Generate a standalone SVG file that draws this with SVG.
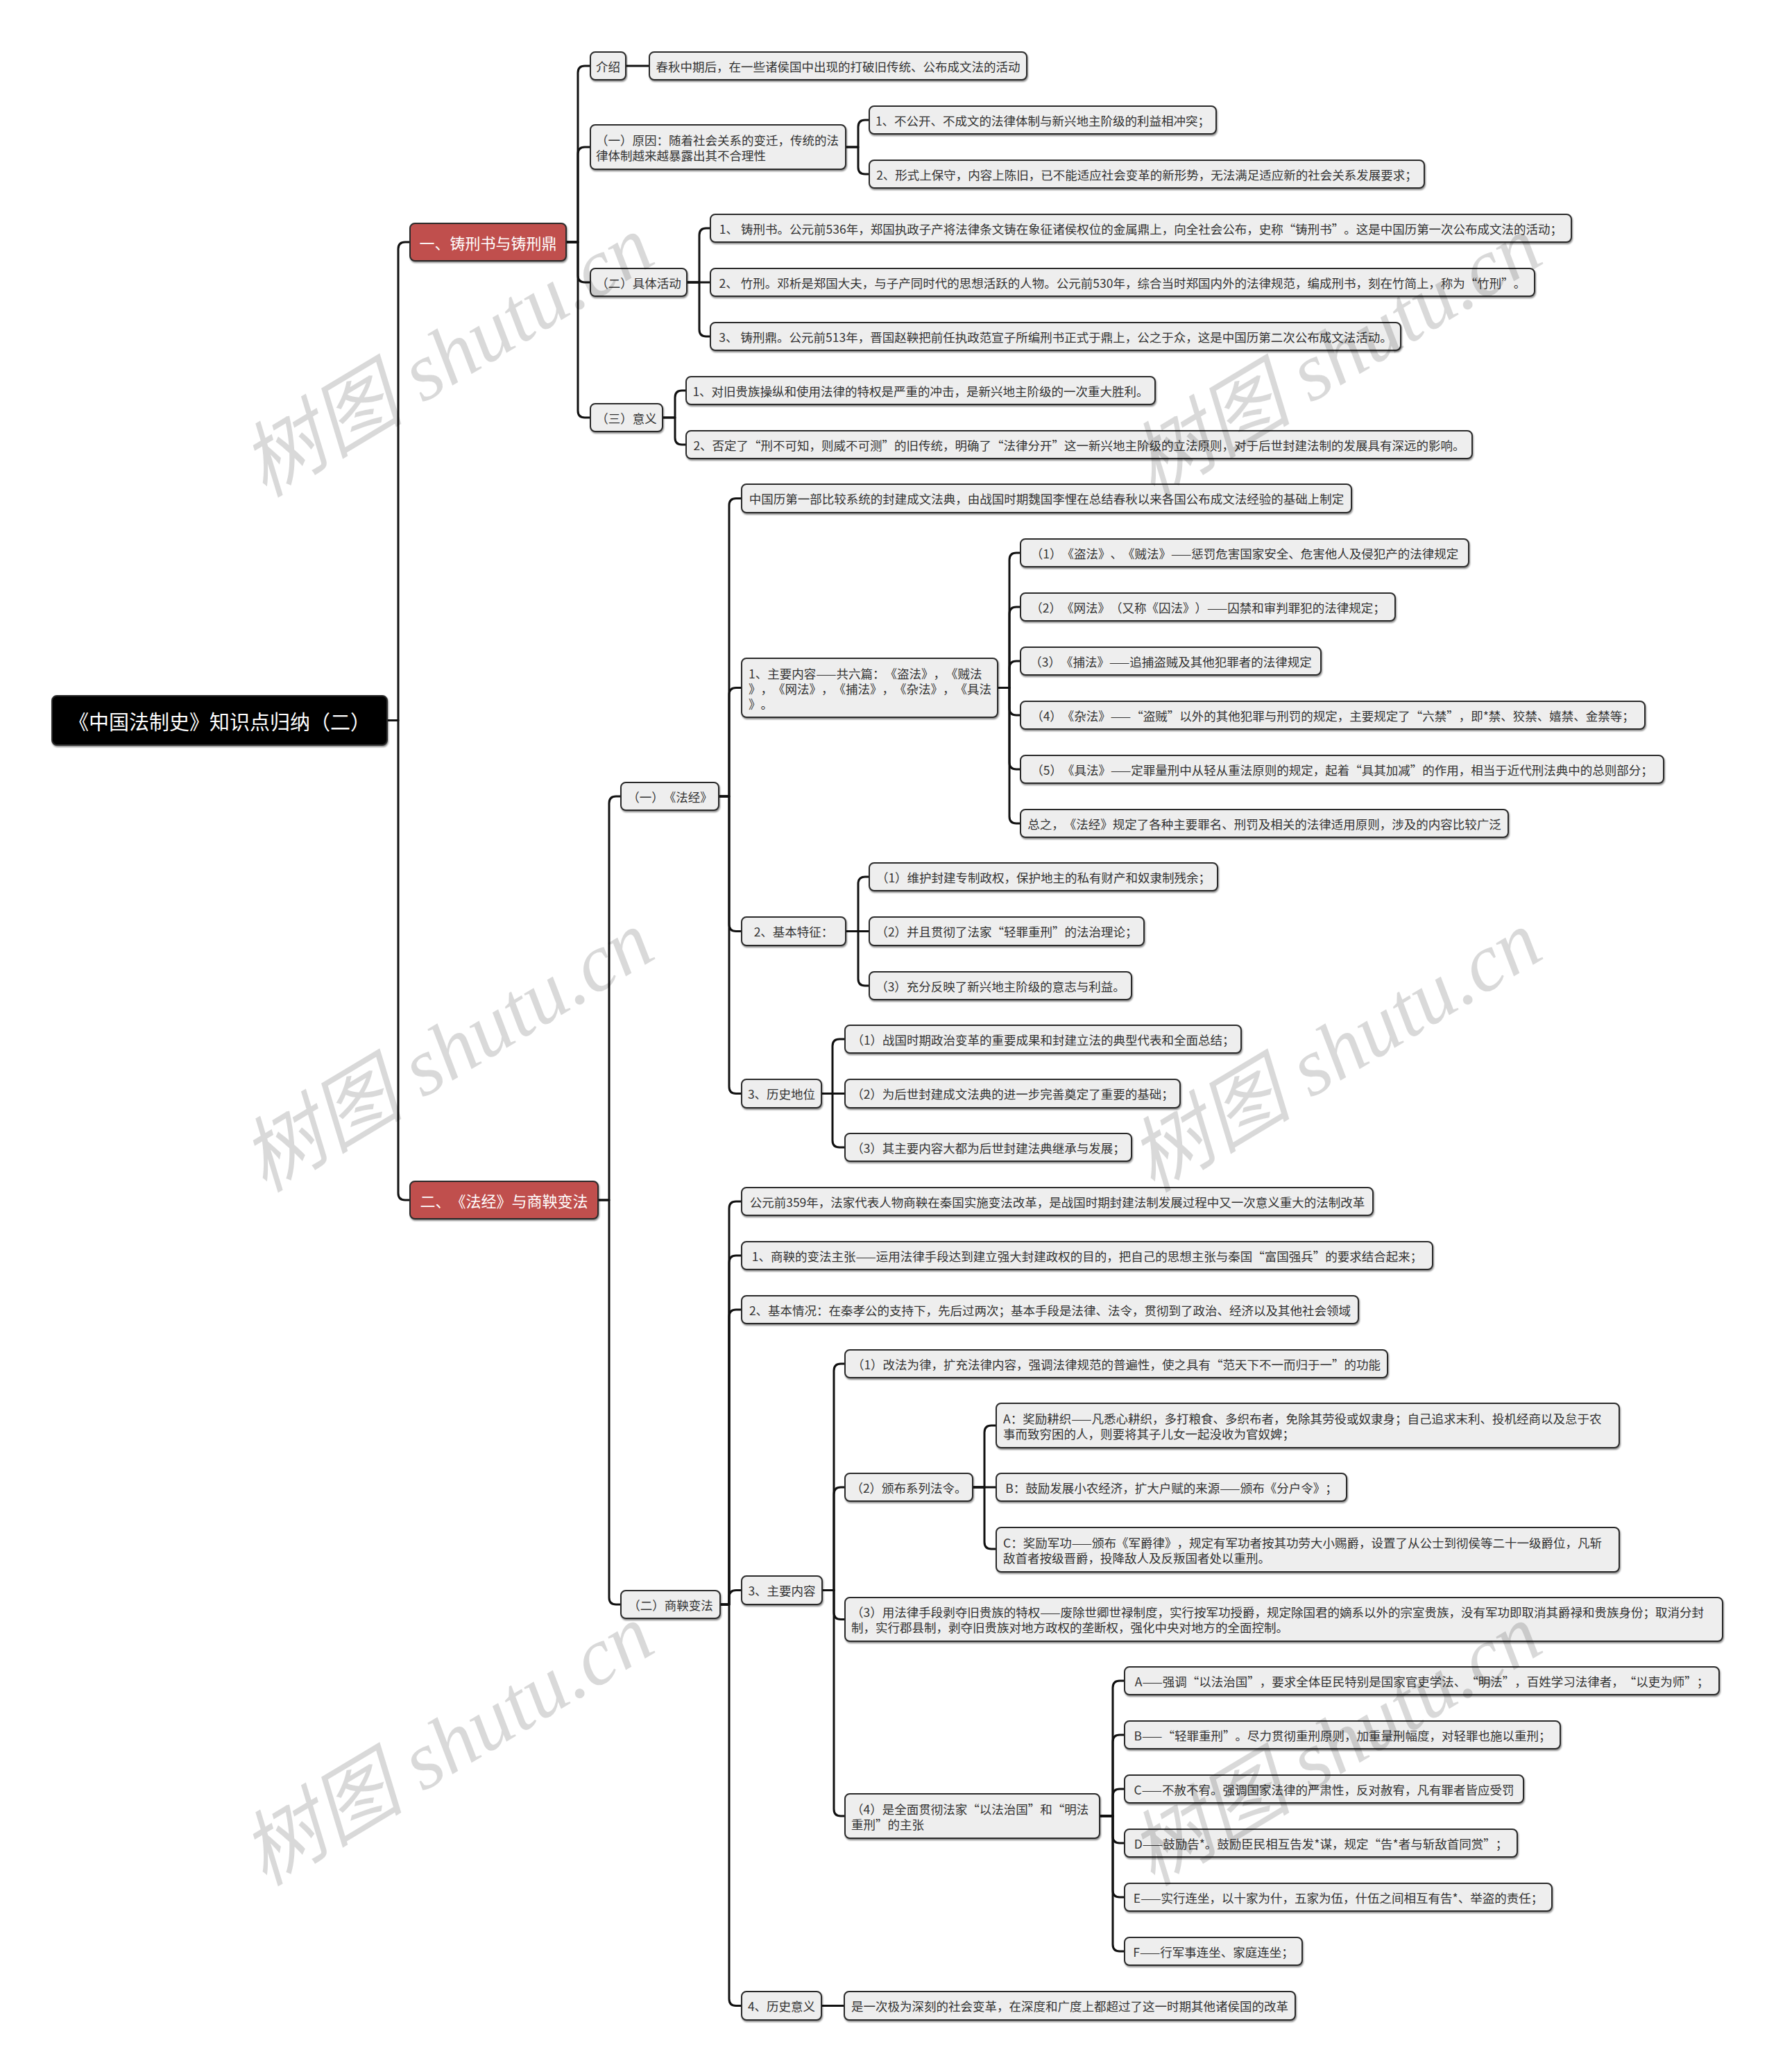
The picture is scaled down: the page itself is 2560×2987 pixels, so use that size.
<svg xmlns="http://www.w3.org/2000/svg" width="2560" height="2987" viewBox="0 0 2560 2987">
<style>
text{text-spacing-trim:space-all}
.node rect{fill:#eeeeee;stroke:#2a2a2a;stroke-width:2;filter:url(#sh)}
.node text{font-family:"Noto Sans CJK SC","Microsoft YaHei",sans-serif;font-size:17.5px;fill:#333;dominant-baseline:central}
.c{text-anchor:middle}
.branch rect{fill:#c0504d}
.branch text{fill:#fff;font-size:22px}
.root rect{fill:#000}
.root text{fill:#fff;font-size:29px}
#connectors path{fill:none;stroke:#111;stroke-width:3;stroke-linecap:round;stroke-linejoin:round}
.wm{font-family:"Liberation Serif","Noto Sans CJK SC",serif;font-style:italic;font-size:118px;fill:#000;fill-opacity:0.15;text-anchor:middle;dominant-baseline:central}
</style>
<defs>
<filter id="sh" x="-5%" y="-20%" width="110%" height="150%"><feDropShadow dx="1" dy="2" stdDeviation="1" flood-color="#000" flood-opacity="0.45"/></filter>
</defs>
<rect width="2560" height="2987" fill="#fff"/>
<g id="connectors">
<path d="M558 1038.5 H574 V359 Q574 349 584 349 H591"/>
<path d="M558 1038.5 H574 V1720 Q574 1730 584 1730 H591"/>
<path d="M816 349 H833 V105 Q833 95 843 95 H851"/>
<path d="M816 349 H833 V222 Q833 212 843 212 H851"/>
<path d="M816 349 H833 V397 Q833 407 843 407 H851"/>
<path d="M816 349 H833 V592 Q833 602 843 602 H851"/>
<path d="M902 95 H936"/>
<path d="M1219 212 H1237 V183 Q1237 173 1247 173 H1253"/>
<path d="M1219 212 H1237 V241 Q1237 251 1247 251 H1253"/>
<path d="M990 407 H1008 V339 Q1008 329 1018 329 H1024"/>
<path d="M990 407 H1024"/>
<path d="M990 407 H1008 V475 Q1008 485 1018 485 H1024"/>
<path d="M955 602 H973 V573 Q973 563 983 563 H989"/>
<path d="M955 602 H973 V631 Q973 641 983 641 H989"/>
<path d="M862 1730 H878 V1158 Q878 1148 888 1148 H895"/>
<path d="M862 1730 H878 V2303 Q878 2313 888 2313 H895"/>
<path d="M1036 1148 H1051 V728.5 Q1051 718.5 1061 718.5 H1069"/>
<path d="M1036 1148 H1051 V1001.5 Q1051 991.5 1061 991.5 H1069"/>
<path d="M1036 1148 H1051 V1332.5 Q1051 1342.5 1061 1342.5 H1069"/>
<path d="M1036 1148 H1051 V1566.5 Q1051 1576.5 1061 1576.5 H1069"/>
<path d="M1438 991.5 H1455 V807 Q1455 797 1465 797 H1471"/>
<path d="M1438 991.5 H1455 V885 Q1455 875 1465 875 H1471"/>
<path d="M1438 991.5 H1455 V963 Q1455 953 1465 953 H1471"/>
<path d="M1438 991.5 H1455 V1021 Q1455 1031 1465 1031 H1471"/>
<path d="M1438 991.5 H1455 V1099 Q1455 1109 1465 1109 H1471"/>
<path d="M1438 991.5 H1455 V1177 Q1455 1187 1465 1187 H1471"/>
<path d="M1219 1342.5 H1237 V1274 Q1237 1264 1247 1264 H1253"/>
<path d="M1219 1342.5 H1253"/>
<path d="M1219 1342.5 H1237 V1411 Q1237 1421 1247 1421 H1253"/>
<path d="M1184 1576.5 H1200 V1508 Q1200 1498 1210 1498 H1218"/>
<path d="M1184 1576.5 H1218"/>
<path d="M1184 1576.5 H1200 V1644 Q1200 1654 1210 1654 H1218"/>
<path d="M1038 2313 H1051 V1742 Q1051 1732 1061 1732 H1069"/>
<path d="M1038 2313 H1051 V1820 Q1051 1810 1061 1810 H1069"/>
<path d="M1038 2313 H1051 V1898 Q1051 1888 1061 1888 H1069"/>
<path d="M1038 2313 H1051 V2302.5 Q1051 2292.5 1061 2292.5 H1069"/>
<path d="M1038 2313 H1051 V2881.5 Q1051 2891.5 1061 2891.5 H1069"/>
<path d="M1185 2292.5 H1202 V1976 Q1202 1966 1212 1966 H1218"/>
<path d="M1185 2292.5 H1202 V2154 Q1202 2144 1212 2144 H1218"/>
<path d="M1185 2292.5 H1202 V2324.5 Q1202 2334.5 1212 2334.5 H1218"/>
<path d="M1185 2292.5 H1202 V2608 Q1202 2618 1212 2618 H1218"/>
<path d="M1402 2144 H1419 V2065 Q1419 2055 1429 2055 H1436"/>
<path d="M1402 2144 H1436"/>
<path d="M1402 2144 H1419 V2223 Q1419 2233 1429 2233 H1436"/>
<path d="M1585 2618 H1604 V2433 Q1604 2423 1614 2423 H1621"/>
<path d="M1585 2618 H1604 V2511 Q1604 2501 1614 2501 H1621"/>
<path d="M1585 2618 H1604 V2589 Q1604 2579 1614 2579 H1621"/>
<path d="M1585 2618 H1604 V2647 Q1604 2657 1614 2657 H1621"/>
<path d="M1585 2618 H1604 V2725 Q1604 2735 1614 2735 H1621"/>
<path d="M1585 2618 H1604 V2803 Q1604 2813 1614 2813 H1621"/>
<path d="M1184 2891.5 H1217"/>
</g>
<g id="n-root" class="node root"><rect x="75" y="1003" width="483" height="71" rx="7"/><text class="c" x="316.5" y="1038.5">《中国法制史》知识点归纳（二）</text></g>
<g id="n-b1" class="node branch"><rect x="591" y="322" width="225" height="54" rx="7"/><text class="c" x="703.5" y="349">一、铸刑书与铸刑鼎</text></g>
<g id="n-b2" class="node branch"><rect x="591" y="1703" width="271" height="54" rx="7"/><text class="c" x="726.5" y="1730">二、《法经》与商鞅变法</text></g>
<g id="n-intro" class="node"><rect x="851" y="75" width="51" height="40" rx="7"/><text class="c" x="876.5" y="95">介绍</text></g>
<g id="n-intro-1" class="node"><rect x="936" y="75" width="544" height="40" rx="7"/><text class="c" x="1208" y="95">春秋中期后，在一些诸侯国中出现的打破旧传统、公布成文法的活动</text></g>
<g id="n-reason" class="node"><rect x="851" y="180" width="368" height="64" rx="7"/><text x="859" y="201">（一）原因：随着社会关系的变迁，传统的法</text><text x="859" y="223">律体制越来越暴露出其不合理性</text></g>
<g id="n-reason-1" class="node"><rect x="1253" y="153" width="500" height="40" rx="7"/><text class="c" x="1503" y="173">1、不公开、不成文的法律体制与新兴地主阶级的利益相冲突；</text></g>
<g id="n-reason-2" class="node"><rect x="1253" y="231" width="800" height="40" rx="7"/><text class="c" x="1653" y="251">2、形式上保守，内容上陈旧，已不能适应社会变革的新形势，无法满足适应新的社会关系发展要求；</text></g>
<g id="n-act" class="node"><rect x="851" y="387" width="139" height="40" rx="7"/><text class="c" x="920.5" y="407">（二）具体活动</text></g>
<g id="n-act-1" class="node"><rect x="1024" y="309" width="1241" height="40" rx="7"/><text class="c" x="1644.5" y="329">1、 铸刑书。公元前536年，郑国执政子产将法律条文铸在象征诸侯权位的金属鼎上，向全社会公布，史称“铸刑书”。这是中国历第一次公布成文法的活动；</text></g>
<g id="n-act-2" class="node"><rect x="1024" y="387" width="1188" height="40" rx="7"/><text class="c" x="1618" y="407">2、 竹刑。邓析是郑国大夫，与子产同时代的思想活跃的人物。公元前530年，综合当时郑国内外的法律规范，编成刑书，刻在竹简上，称为“竹刑”。</text></g>
<g id="n-act-3" class="node"><rect x="1024" y="465" width="995" height="40" rx="7"/><text class="c" x="1521.5" y="485">3、 铸刑鼎。公元前513年，晋国赵鞅把前任执政范宣子所编刑书正式于鼎上，公之于众，这是中国历第二次公布成文法活动。</text></g>
<g id="n-sig" class="node"><rect x="851" y="582" width="104" height="40" rx="7"/><text class="c" x="903" y="602">（三）意义</text></g>
<g id="n-sig-1" class="node"><rect x="989" y="543" width="676" height="40" rx="7"/><text class="c" x="1327" y="563">1、对旧贵族操纵和使用法律的特权是严重的冲击，是新兴地主阶级的一次重大胜利。</text></g>
<g id="n-sig-2" class="node"><rect x="989" y="621" width="1133" height="40" rx="7"/><text class="c" x="1555.5" y="641">2、否定了“刑不可知，则威不可测”的旧传统，明确了“法律分开”这一新兴地主阶级的立法原则，对于后世封建法制的发展具有深远的影响。</text></g>
<g id="n-fj" class="node"><rect x="895" y="1128" width="141" height="40" rx="7"/><text class="c" x="965.5" y="1148">（一）《法经》</text></g>
<g id="n-fj-0" class="node"><rect x="1069" y="698" width="879" height="41" rx="7"/><text class="c" x="1508.5" y="718.5">中国历第一部比较系统的封建成文法典，由战国时期魏国李悝在总结春秋以来各国公布成文法经验的基础上制定</text></g>
<g id="n-fj-1" class="node"><rect x="1069" y="949" width="369" height="85" rx="7"/><text x="1079" y="970">1、主要内容——共六篇：《盗法》，《贼法</text><text x="1079" y="992">》，《网法》，《捕法》，《杂法》，《具法</text><text x="1079" y="1014">》。</text></g>
<g id="n-fj-1-1" class="node"><rect x="1471" y="777" width="646" height="40" rx="7"/><text class="c" x="1794" y="797">（1）《盗法》、《贼法》——惩罚危害国家安全、危害他人及侵犯产的法律规定</text></g>
<g id="n-fj-1-2" class="node"><rect x="1471" y="855" width="540" height="40" rx="7"/><text class="c" x="1741" y="875">（2）《网法》（又称《囚法》）——囚禁和审判罪犯的法律规定；</text></g>
<g id="n-fj-1-3" class="node"><rect x="1471" y="933" width="433" height="40" rx="7"/><text class="c" x="1687.5" y="953">（3）《捕法》——追捕盗贼及其他犯罪者的法律规定</text></g>
<g id="n-fj-1-4" class="node"><rect x="1471" y="1011" width="900" height="40" rx="7"/><text class="c" x="1921" y="1031">（4）《杂法》——“盗贼”以外的其他犯罪与刑罚的规定，主要规定了“六禁”，即*禁、狡禁、嬉禁、金禁等；</text></g>
<g id="n-fj-1-5" class="node"><rect x="1471" y="1089" width="927" height="40" rx="7"/><text class="c" x="1934.5" y="1109">（5）《具法》——定罪量刑中从轻从重法原则的规定，起着“具其加减”的作用，相当于近代刑法典中的总则部分；</text></g>
<g id="n-fj-1-6" class="node"><rect x="1471" y="1167" width="703" height="40" rx="7"/><text class="c" x="1822.5" y="1187">总之，《法经》规定了各种主要罪名、刑罚及相关的法律适用原则，涉及的内容比较广泛</text></g>
<g id="n-fj-2" class="node"><rect x="1069" y="1322" width="150" height="41" rx="7"/><text class="c" x="1144" y="1342.5">2、基本特征：</text></g>
<g id="n-fj-2-1" class="node"><rect x="1253" y="1244" width="502" height="40" rx="7"/><text class="c" x="1504" y="1264">（1）维护封建专制政权，保护地主的私有财产和奴隶制残余；</text></g>
<g id="n-fj-2-2" class="node"><rect x="1253" y="1322" width="396" height="41" rx="7"/><text class="c" x="1451" y="1342.5">（2）并且贯彻了法家“轻罪重刑”的法治理论；</text></g>
<g id="n-fj-2-3" class="node"><rect x="1253" y="1401" width="378" height="40" rx="7"/><text class="c" x="1442" y="1421">（3）充分反映了新兴地主阶级的意志与利益。</text></g>
<g id="n-fj-3" class="node"><rect x="1069" y="1556" width="115" height="41" rx="7"/><text class="c" x="1126.5" y="1576.5">3、历史地位</text></g>
<g id="n-fj-3-1" class="node"><rect x="1218" y="1478" width="571" height="40" rx="7"/><text class="c" x="1503.5" y="1498">（1）战国时期政治变革的重要成果和封建立法的典型代表和全面总结；</text></g>
<g id="n-fj-3-2" class="node"><rect x="1218" y="1556" width="483" height="41" rx="7"/><text class="c" x="1459.5" y="1576.5">（2）为后世封建成文法典的进一步完善奠定了重要的基础；</text></g>
<g id="n-fj-3-3" class="node"><rect x="1218" y="1634" width="413" height="40" rx="7"/><text class="c" x="1424.5" y="1654">（3）其主要内容大都为后世封建法典继承与发展；</text></g>
<g id="n-sy" class="node"><rect x="895" y="2293" width="143" height="40" rx="7"/><text class="c" x="966.5" y="2313">（二）商鞅变法</text></g>
<g id="n-sy-0" class="node"><rect x="1069" y="1712" width="910" height="40" rx="7"/><text class="c" x="1524" y="1732">公元前359年，法家代表人物商鞅在秦国实施变法改革，是战国时期封建法制发展过程中又一次意义重大的法制改革</text></g>
<g id="n-sy-1" class="node"><rect x="1069" y="1790" width="996" height="40" rx="7"/><text class="c" x="1567" y="1810">1、商鞅的变法主张——运用法律手段达到建立强大封建政权的目的，把自己的思想主张与秦国“富国强兵”的要求结合起来；</text></g>
<g id="n-sy-2" class="node"><rect x="1069" y="1868" width="889" height="40" rx="7"/><text class="c" x="1513.5" y="1888">2、基本情况：在秦孝公的支持下，先后过两次；基本手段是法律、法令，贯彻到了政治、经济以及其他社会领域</text></g>
<g id="n-sy-3" class="node"><rect x="1069" y="2272" width="116" height="41" rx="7"/><text class="c" x="1127" y="2292.5">3、主要内容</text></g>
<g id="n-sy-3-1" class="node"><rect x="1218" y="1946" width="782" height="40" rx="7"/><text class="c" x="1609" y="1966">（1）改法为律，扩充法律内容，强调法律规范的普遍性，使之具有“范天下不一而归于一”的功能</text></g>
<g id="n-sy-3-2" class="node"><rect x="1218" y="2124" width="184" height="40" rx="7"/><text class="c" x="1310" y="2144">（2）颁布系列法令。</text></g>
<g id="n-sy-3-2-a" class="node"><rect x="1436" y="2023" width="898" height="64" rx="7"/><text x="1446" y="2044">A：奖励耕织——凡悉心耕织，多打粮食、多织布者，免除其劳役或奴隶身；自己追求末利、投机经商以及怠于农</text><text x="1446" y="2066">事而致穷困的人，则要将其子儿女一起没收为官奴婢；</text></g>
<g id="n-sy-3-2-b" class="node"><rect x="1436" y="2124" width="505" height="40" rx="7"/><text class="c" x="1688.5" y="2144">B：鼓励发展小农经济，扩大户赋的来源——颁布《分户令》；</text></g>
<g id="n-sy-3-2-c" class="node"><rect x="1436" y="2202" width="898" height="64" rx="7"/><text x="1446" y="2223">C：奖励军功——颁布《军爵律》，规定有军功者按其功劳大小赐爵，设置了从公士到彻侯等二十一级爵位，凡斩</text><text x="1446" y="2245">敌首者按级晋爵，投降敌人及反叛国者处以重刑。</text></g>
<g id="n-sy-3-3" class="node"><rect x="1218" y="2303" width="1265" height="63" rx="7"/><text x="1227" y="2323.5">（3）用法律手段剥夺旧贵族的特权——废除世卿世禄制度，实行按军功授爵，规定除国君的嫡系以外的宗室贵族，没有军功即取消其爵禄和贵族身份；取消分封</text><text x="1227" y="2345.5">制，实行郡县制，剥夺旧贵族对地方政权的垄断权，强化中央对地方的全面控制。</text></g>
<g id="n-sy-3-4" class="node"><rect x="1218" y="2586" width="367" height="64" rx="7"/><text x="1227" y="2607">（4）是全面贯彻法家“以法治国”和“明法</text><text x="1227" y="2629">重刑”的主张</text></g>
<g id="n-sy-3-4-a" class="node"><rect x="1621" y="2403" width="857" height="40" rx="7"/><text class="c" x="2049.5" y="2423">A——强调“以法治国”，要求全体臣民特别是国家官吏学法、“明法”，百姓学习法律者，“以吏为师”；</text></g>
<g id="n-sy-3-4-b" class="node"><rect x="1621" y="2481" width="628" height="40" rx="7"/><text class="c" x="1935" y="2501">B——“轻罪重刑”。尽力贯彻重刑原则，加重量刑幅度，对轻罪也施以重刑；</text></g>
<g id="n-sy-3-4-c" class="node"><rect x="1621" y="2559" width="575" height="40" rx="7"/><text class="c" x="1908.5" y="2579">C——不赦不宥。强调国家法律的严肃性，反对赦宥，凡有罪者皆应受罚</text></g>
<g id="n-sy-3-4-d" class="node"><rect x="1621" y="2637" width="566" height="40" rx="7"/><text class="c" x="1904" y="2657">D——鼓励告*。鼓励臣民相互告发*谋，规定“告*者与斩敌首同赏”；</text></g>
<g id="n-sy-3-4-e" class="node"><rect x="1621" y="2715" width="616" height="40" rx="7"/><text class="c" x="1929" y="2735">E——实行连坐，以十家为什，五家为伍，什伍之间相互有告*、举盗的责任；</text></g>
<g id="n-sy-3-4-f" class="node"><rect x="1621" y="2793" width="256" height="40" rx="7"/><text class="c" x="1749" y="2813">F——行军事连坐、家庭连坐；</text></g>
<g id="n-sy-4" class="node"><rect x="1069" y="2871" width="115" height="41" rx="7"/><text class="c" x="1126.5" y="2891.5">4、历史意义</text></g>
<g id="n-sy-4-1" class="node"><rect x="1217" y="2871" width="650" height="41" rx="7"/><text class="c" x="1542" y="2891.5">是一次极为深刻的社会变革，在深度和广度上都超过了这一时期其他诸侯国的改革</text></g>
<g id="watermark">
<text class="wm" transform="translate(645 514) rotate(-31)">树图 shutu.cn</text>
<text class="wm" transform="translate(1925 514) rotate(-31)">树图 shutu.cn</text>
<text class="wm" transform="translate(645 1516) rotate(-31)">树图 shutu.cn</text>
<text class="wm" transform="translate(1925 1516) rotate(-31)">树图 shutu.cn</text>
<text class="wm" transform="translate(645 2516) rotate(-31)">树图 shutu.cn</text>
<text class="wm" transform="translate(1925 2516) rotate(-31)">树图 shutu.cn</text>
</g>
</svg>
